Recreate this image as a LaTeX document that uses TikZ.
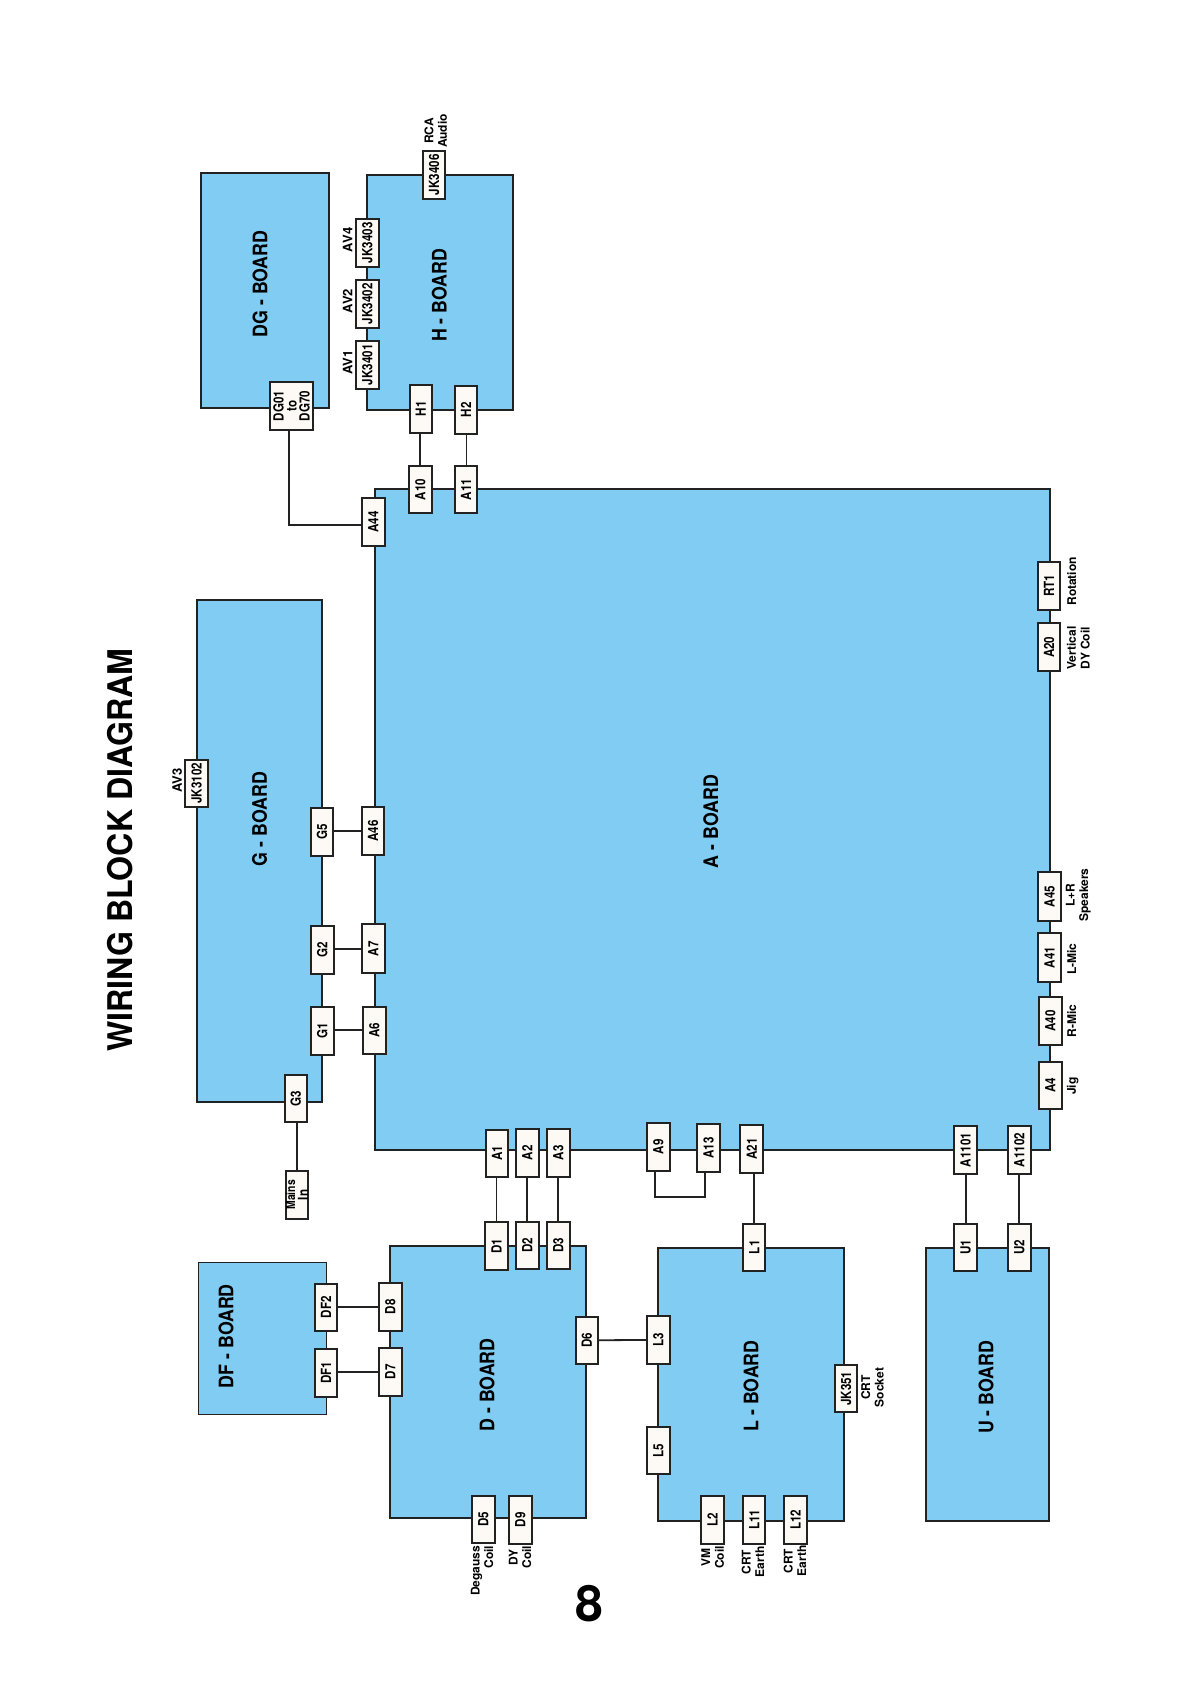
\documentclass[tikz,border=0pt]{standalone}
\usepackage{fontspec}
\setmainfont{TeX Gyre Heros}
\newfontfamily\connfont[FakeStretch=0.83]{TeX Gyre Heros}
\newfontfamily\boardfont[FakeStretch=0.89]{TeX Gyre Heros}
\newfontfamily\titlefont[FakeStretch=0.945]{TeX Gyre Heros}
\definecolor{boardblue}{HTML}{80CCF2}
\definecolor{linecol}{HTML}{222222}
\definecolor{conn}{HTML}{FDF9F5}
\tikzset{
 x=1pt,y=-1pt,
 board/.style={draw=linecol,fill=boardblue,line width=2pt},
 boardname/.style={rotate=90,font=\boardfont\fontsize{20}{20}\selectfont\bfseries},
 lbl/.style={rotate=90,font=\fontsize{12}{13.6}\selectfont\bfseries,align=center,inner sep=0pt},
 avlbl/.style={lbl,font=\fontsize{13}{13.6}\selectfont\bfseries},
 wire/.style={draw=linecol,line width=2pt},
 midwire/.style={draw=linecol,line width=1.8pt},
 thinwire/.style={draw=linecol,line width=1pt},
}
% \cn{name}{x0}{y0}{x1}{y1}{text}
\newcommand{\cn}[6]{\draw[draw=linecol,fill=conn,line width=2pt] (#2,#3) rectangle (#4,#5);
 \node[rotate=90,inner sep=0pt,font=\connfont\fontsize{14}{13}\selectfont\bfseries,align=center] (#1) at ({(#2+#4)/2},{(#3+#5)/2}) {#6};
 \coordinate (#1-L) at (#2,{(#3+#5)/2});
 \coordinate (#1-R) at (#4,{(#3+#5)/2});
 \coordinate (#1-T) at ({(#2+#4)/2},#3);
 \coordinate (#1-B) at ({(#2+#4)/2},#5);}
\begin{document}
\begin{tikzpicture}
\useasboundingbox (0,0) rectangle (1179,1684);
\fill[white] (0,0) rectangle (1179,1684);
% Boards
\draw[board] (200.7,172.7) rectangle (329,408);
\draw[board] (366.7,175) rectangle (513,410);
\draw[board] (196.7,599.7) rectangle (321.7,1102.4);
\draw[board] (374.7,489.3) rectangle (1050,1149.9);
\draw[board,line width=1pt] (198.3,1262.4) rectangle (326.7,1414.3);
\draw[board] (390,1246.3) rectangle (586,1518.4);
\draw[board] (658.3,1247.8) rectangle (844,1520.7);
\draw[board] (926,1247.8) rectangle (1049,1520.7);
\node[boardname] (dgb) at (260,284) {DG - BOARD};
\node[boardname] (hb) at (439.3,295.3) {H - BOARD};
\node[boardname] (gb) at (259.5,819) {G - BOARD};
\node[boardname] (ab) at (710.9,821.5) {A - BOARD};
\node[boardname] (dfb) at (226,1336.2) {DF - BOARD};
\node[boardname] (db) at (487,1385) {D - BOARD};
\node[boardname] (lb) at (751,1386) {L - BOARD};
\node[boardname] (ub) at (986,1387.3) {U - BOARD};
% Connectors
\cn{jk3406}{422.7}{150.7}{445.3}{199}{JK3406}
\cn{jk3403}{355.7}{218.7}{379}{266.7}{JK3403}
\cn{jk3402}{355.7}{279.7}{379}{328}{JK3402}
\cn{jk3401}{355.7}{340.7}{379}{389}{JK3401}
\cn{hone}{409.7}{384.7}{432}{433}{H1}
\cn{htwo}{454.7}{385.7}{477.3}{434}{H2}
\cn{aten}{408.7}{465.7}{432}{513}{A10}
\cn{aelev}{454.7}{465.7}{477.3}{513.3}{A11}
\cn{afourfour}{361.7}{498.3}{385}{546}{A44}
\cn{dg}{269.7}{381.7}{313.3}{430}{DG01\\to\\DG70}
\cn{gfive}{310.7}{807.7}{333.3}{856}{G5}
\cn{gtwo}{310.7}{925.7}{334}{974}{G2}
\cn{gone}{310.7}{1006.7}{334}{1055}{G1}
\cn{afoursix}{361.7}{806.7}{384.3}{855}{A46}
\cn{aseven}{361.7}{924.3}{385}{973}{A7}
\cn{asix}{362.7}{1006.7}{386}{1054}{A6}
\cn{jk3102}{184.7}{759.7}{208.3}{807}{JK3102}
\cn{gthree}{284.7}{1074.9}{307}{1122}{G3}
\cn{mains}{285.7}{1170.9}{308.3}{1218.8}{\fontsize{12.5}{9.5}\selectfont Mains\\In}
\cn{aone}{485.7}{1129.6}{508.3}{1177}{A1}
\cn{atwo}{515.7}{1128.8}{539}{1177}{A2}
\cn{athree}{546.7}{1128.8}{570}{1177}{A3}
\cn{anine}{646.7}{1122.7}{670}{1171}{A9}
\cn{athirteen}{697}{1123.9}{720}{1171.7}{A13}
\cn{atwoone}{740}{1125}{763.3}{1172.8}{A21}
\cn{aeleven}{954}{1125.8}{977.3}{1174.4}{A1101}
\cn{atwelve}{1007.7}{1125.8}{1031}{1174.4}{A1102}
\cn{afour}{1038.7}{1061.5}{1062}{1109}{A4}
\cn{afourzero}{1038.7}{996.7}{1062}{1044.9}{A40}
\cn{afourone}{1037.7}{933.4}{1061.3}{981.7}{A41}
\cn{afourfive}{1037.7}{872.2}{1061.3}{920.8}{A45}
\cn{atwozero}{1037.7}{623.2}{1060.3}{671.4}{A20}
\cn{rtone}{1037.7}{561.9}{1060.3}{610.1}{RT1}
\cn{done}{484.7}{1221.8}{508.3}{1270.4}{D1}
\cn{dtwo}{515.7}{1221.8}{539}{1268.9}{D2}
\cn{dthree}{546.7}{1221.8}{570}{1268.9}{D3}
\cn{dftwo}{314.7}{1283.8}{337.3}{1330.9}{DF2}
\cn{dfone}{314.7}{1348.9}{337.3}{1396.7}{DF1}
\cn{deight}{378.7}{1282.7}{402}{1330.9}{D8}
\cn{dseven}{378.7}{1347.7}{402}{1396}{D7}
\cn{dsix}{575.7}{1316.7}{598}{1363.8}{D6}
\cn{lthree}{646.7}{1316}{670}{1363.8}{L3}
\cn{lfive}{646.7}{1427}{670}{1474}{L5}
\cn{dfive}{471.7}{1495.8}{495}{1542.9}{D5}
\cn{dnine}{508.7}{1495.8}{532}{1543.7}{D9}
\cn{lone}{743}{1223.7}{765.3}{1270.8}{L1}
\cn{jk351}{835}{1365.3}{857}{1412}{JK351}
\cn{ltwo}{701}{1495.8}{724}{1543.7}{L2}
\cn{lelev}{743}{1495.8}{765.3}{1543.7}{L11}
\cn{ltwelve}{784}{1495.8}{807}{1543.7}{L12}
\cn{uone}{954}{1223.7}{977.3}{1270.8}{U1}
\cn{utwo}{1007.7}{1223.7}{1031}{1270.8}{U2}
% Wires
\coordinate (dgw) at (289.3,430);
\coordinate (dgc) at (289.3,525);
\coordinate (aff) at (361.7,525);
\draw[wire] (dgw) -- (dgc) -- (aff);
\draw[wire] (aten-T |- hone-B) -- (aten-T);
\draw[thinwire] (aelev-T |- htwo-B) -- (aelev-T);
\draw[wire] (gfive-R |- afoursix-L) -- (afoursix-L);
\draw[midwire] (gtwo-R |- aseven-L) -- (aseven-L);
\draw[wire] (gone-R |- asix-L) -- (asix-L);
\draw[wire] (mains-T |- gthree-B) -- (mains-T);
\draw[thinwire] (aone-B -| done-T) -- (done-T);
\draw[wire] (atwo-B) -- (dtwo-T);
\draw[wire] (athree-B) -- (dthree-T);
\coordinate (ninet) at (654.7,1171);
\coordinate (nineb) at (654.7,1196.6);
\coordinate (thirb) at (704.7,1196.6);
\coordinate (thirt) at (704.7,1171.7);
\draw[midwire] (ninet) -- (nineb) -- (thirb) -- (thirt);
\draw[wire] (lone-T |- atwoone-B) -- (lone-T);
\draw[wire] (aeleven-B) -- (uone-T);
\draw[midwire] (atwelve-B) -- (utwo-T);
\draw[midwire] (dftwo-R |- deight-L) -- (deight-L);
\draw[midwire] (dfone-R |- dseven-L) -- (dseven-L);
\draw[midwire] (dsix-R) -- (lthree-L);
% Labels
\node[avlbl] (av1) at (347.7,362.7) {AV1};
\node[avlbl] (av2) at (347.7,301) {AV2};
\node[avlbl] (av4) at (347.7,240) {AV4};
\node[lbl] (rca) at (435.7,131) {RCA\\Audio};
\node[avlbl] (av3) at (177.3,780.7) {AV3};
\node[lbl,align=right,anchor=east] (deg) at (482,1545.6) {Degauss\\Coil};
\node[lbl] (dy) at (520,1557) {DY\\Coil};
\node[lbl] (vm) at (712.7,1557.4) {VM\\Coil};
\node[lbl] (crt1) at (753,1562) {CRT\\Earth};
\node[lbl] (crt2) at (795,1561) {CRT\\Earth};
\node[lbl] (sock) at (872.5,1387.5) {CRT\\Socket};
\node[lbl] (jig) at (1072.7,1086) {Jig};
\node[lbl] (rmic) at (1071.7,1021) {R-Mic};
\node[lbl] (lmic) at (1071.7,959) {L-Mic};
\node[lbl] (spk) at (1078.3,895) {L+R\\Speakers};
\node[lbl] (vert) at (1078.3,648) {Vertical\\DY Coil};
\node[lbl] (rot) at (1071.7,581.3) {Rotation};
\node[rotate=90,font=\titlefont\fontsize{34}{34}\selectfont\bfseries] (title) at (120.5,850) {WIRING BLOCK DIAGRAM};
\node[font=\fontsize{50}{50}\selectfont\bfseries,inner sep=0pt] (pg) at (589,1604) {8};
\end{tikzpicture}
\end{document}
